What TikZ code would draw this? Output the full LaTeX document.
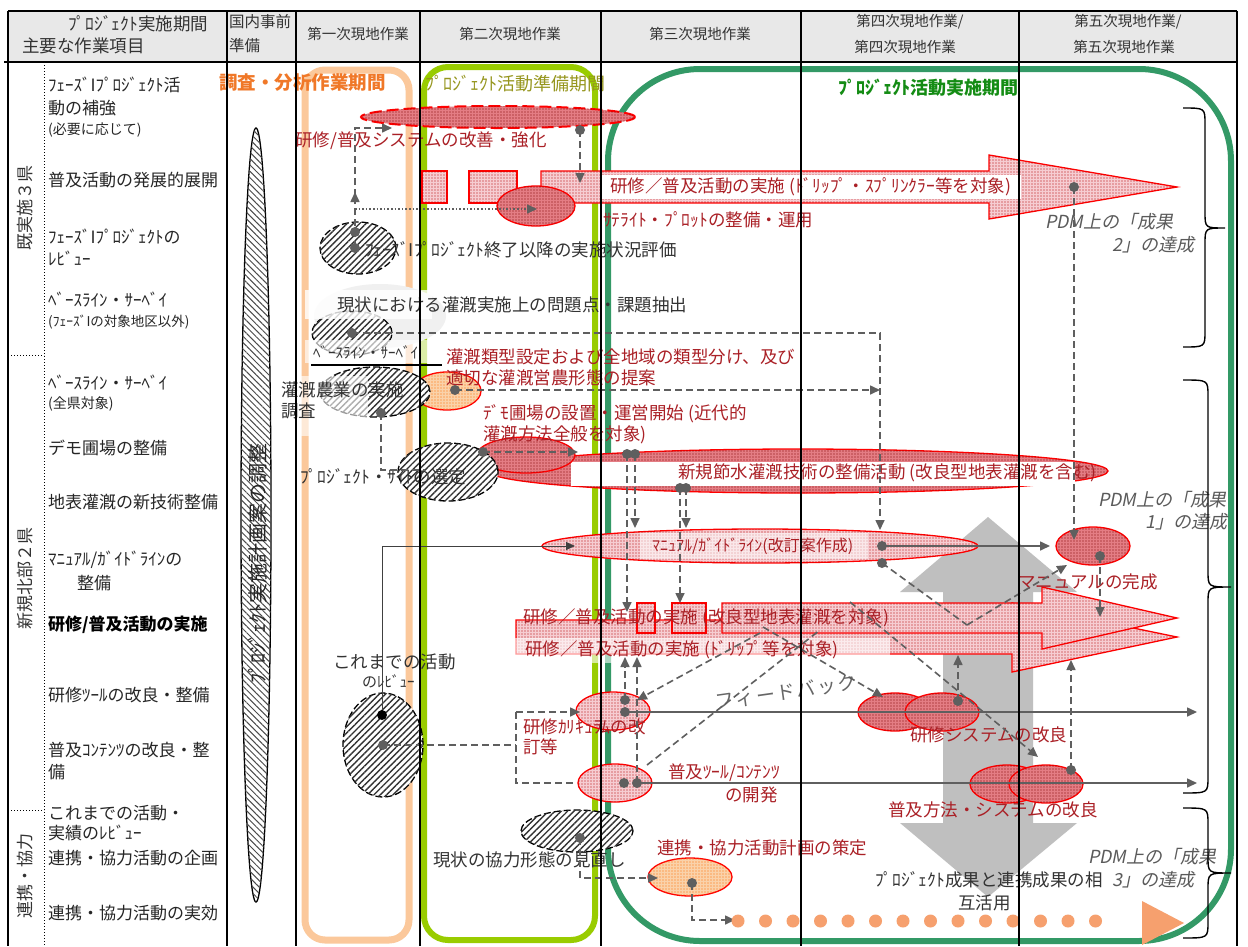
\documentclass[tikz,border=0pt]{standalone}
\usepackage{fontspec}
\setmainfont{Noto Sans CJK JP}[AutoFakeSlant=0.2]
\usetikzlibrary{shapes.geometric,arrows.meta,patterns.meta}

\definecolor{hdr}{RGB}{232,232,232}
\definecolor{txr}{RGB}{170,32,38}
\definecolor{lnk}{RGB}{95,95,95}
\definecolor{orgreg}{RGB}{251,200,155}
\definecolor{olvreg}{RGB}{153,204,0}
\definecolor{grnreg}{RGB}{51,153,102}
\definecolor{orgtxt}{RGB}{240,120,40}
\definecolor{olvtxt}{RGB}{150,150,30}
\definecolor{grntxt}{RGB}{20,140,20}
\definecolor{redfill}{RGB}{228,125,132}
\definecolor{pinkfill}{RGB}{246,205,210}
\definecolor{orgfill}{RGB}{250,210,170}
\definecolor{orgdot}{RGB}{246,160,110}
\definecolor{graybig}{RGB}{191,191,191}
\definecolor{pdm}{RGB}{90,90,90}

\tikzset{
  txt/.style={inner sep=0pt, font=\fontsize{17}{20}\selectfont},
  itm/.style={txt, anchor=west, text=black!85},
  rtx/.style={inner sep=0pt, font=\fontsize{17.5}{20}\selectfont, anchor=west, text=txr},
  btx/.style={inner sep=0pt, font=\fontsize{17.5}{20}\selectfont, anchor=west, text=black!80},
  hdrt/.style={inner sep=0pt, font=\fontsize{14.5}{17}\selectfont, text=black!80},
  pdmt/.style={inner sep=0pt, font=\fontsize{18}{21}\selectfont\itshape, text=pdm},
  ell/.style={ellipse, inner sep=0pt},
  hatchell/.style={ell, draw=black, line width=1.3pt, dash pattern=on 7pt off 3pt, fill=white,
    postaction={pattern={Lines[angle=45,distance=4.5pt,line width=1.4pt]}, pattern color=black!80}},
  redell/.style={ell, draw=red, line width=1.3pt, fill=redfill,
    postaction={pattern={Dots[distance=3pt,radius=0.6pt]}, pattern color=red!50!black}},
  pinkell/.style={ell, draw=red, line width=1.3pt, fill=pinkfill,
    postaction={pattern={Dots[distance=3pt,radius=0.6pt]}, pattern color=red!70!black}},
  orgell/.style={ell, draw=red, line width=1.3pt, fill=orgfill,
    postaction={pattern={Dots[distance=3pt,radius=0.6pt]}, pattern color=orange!85!red}},
  bigarr/.style={draw=red, line width=1.3pt, fill=pinkfill,
    postaction={pattern={Dots[distance=3pt,radius=0.55pt]}, pattern color=red!70!black}},
  cn/.style={draw=lnk, line width=1.6pt},
  dcn/.style={cn, dash pattern=on 7pt off 4pt},
  tip/.style={-{Triangle[length=10pt,width=9pt]}},
  gridln/.style={draw=black, line width=1.3pt},
  brc/.style={draw=black, line width=1.4pt},
}

\begin{document}
\begin{tikzpicture}[x=1pt,y=-1pt]
\useasboundingbox (0,0) rectangle (1248,946);
\fill[white] (0,0) rectangle (1248,946);

% header band
\fill[hdr] (8,11) rectangle (1237,62);

% large two-headed grey arrow
\fill[graybig] (988,517) -- (1077,592) -- (1033,592) -- (1033,823) -- (1077,823) -- (988,897)
  -- (900,823) -- (943,823) -- (943,592) -- (900,592) -- cycle;

% period frames
\draw[orgreg, line width=7pt, rounded corners=20pt] (305,70) rectangle (409,940);
\draw[olvreg, line width=6pt, rounded corners=24pt] (424,67) rectangle (595,940);
\draw[grnreg, line width=6pt, rounded corners=92pt] (608,69) rectangle (1231,941);
\node[inner sep=0pt, anchor=west, font=\fontsize{18.5}{21}\selectfont\bfseries, text=orgtxt] (lbor) at (219,83) {調査・分析作業期間};
\node[inner sep=0pt, anchor=west, font=\fontsize{18}{21}\selectfont, text=olvtxt] (lbol) at (425,84) {ﾌﾟﾛｼﾞｪｸﾄ活動準備期間};
\node[inner sep=0pt, anchor=west, font=\fontsize{18}{21}\selectfont\bfseries, text=grntxt] (lbgr) at (838,88) {ﾌﾟﾛｼﾞｪｸﾄ活動実施期間};

% domestic preparation spindle
\node[ell, draw=black, line width=1.3pt, fill=white, minimum width=30pt, minimum height=774pt,
  postaction={pattern={Lines[angle=-45,distance=4.5pt,line width=1pt]}, pattern color=black!70}] (prep) at (256,515) {};
\node[inner sep=0pt, rotate=90, font=\fontsize{20}{23}\selectfont, text=black!85] (tprep) at (258,563) {ﾌﾟﾛｼﾞｪｸﾄ実施計画案の調整};

% wide arrow: drip / sprinkler extension
\path[bigarr] (422,171) rectangle (447,203);
\path[bigarr] (469,171) rectangle (517,203);
\path[bigarr] (541,171) -- (989,171) -- (989,155) -- (1177,187) -- (989,219) -- (989,203) -- (541,203) -- cycle;
\node[rtx, fill=white, inner xsep=10pt, inner ysep=3pt] (tdrip) at (600,187) {研修／普及活動の実施\ (ﾄﾞﾘｯﾌﾟ・ｽﾌﾟﾘﾝｸﾗｰ等を対象)};

% wide arrows: improved surface irrigation / drip
\path[bigarr] (516,620) -- (1012,620) -- (1012,603) -- (1177,637) -- (1012,672) -- (1012,654) -- (516,654) -- cycle;
\path[bigarr] (637,603) rectangle (655,633);
\path[bigarr] (672,603) rectangle (706,633);
\path[bigarr] (722,603) -- (1042,603) -- (1042,587) -- (1177,618) -- (1042,649) -- (1042,633) -- (722,633) -- cycle;
\fill[white, opacity=0.6] (490,638) rectangle (890,663);
\node[rtx] (tsurf) at (523,618) {研修／普及活動の実施\ (改良型地表灌漑を対象)};
\node[rtx] (tdrip2) at (525,650) {研修／普及活動の実施\ (ﾄﾞﾘｯﾌﾟ等を対象)};

% activity ellipses
\node[ell, draw=red, line width=2pt, dash pattern=on 12pt off 5pt, fill=redfill, minimum width=274pt, minimum height=22pt,
  postaction={pattern={Dots[distance=3pt,radius=0.6pt]}, pattern color=red!50!black}] (esys) at (498,117) {};
\node[redell, minimum width=78pt, minimum height=40pt] (esat) at (536,206) {};
\node[redell, minimum width=620pt, minimum height=44pt] (enew) at (798,471) {};
\fill[white] (571,462) rectangle (1075,486);
\node[rtx] (tnew) at (678,473) {新規節水灌漑技術の整備活動\ (改良型地表灌漑を含む)};
\node[pinkell, minimum width=436pt, minimum height=34pt] (eman) at (760,546) {};
\fill[white, opacity=0.55] (640,533) rectangle (868,559);
\node[rtx, font=\fontsize{16}{19}\selectfont] (tman) at (652,546) {ﾏﾆｭｱﾙ/ｶﾞｲﾄﾞﾗｲﾝ(改訂案作成)};
\node[redell, minimum width=98pt, minimum height=36pt] (edemo) at (526,455) {};
\node[orgell, minimum width=68pt, minimum height=38pt] (etype) at (447,391) {};
\node[redell, minimum width=74pt, minimum height=38pt] (edone) at (1093,546) {};
\node[pinkell, minimum width=74pt, minimum height=38pt] (ecur) at (613,711) {};
\node[pinkell, minimum width=74pt, minimum height=38pt] (etool) at (615,783) {};
\node[redell, minimum width=74pt, minimum height=38pt] (ets1) at (895,712) {};
\node[redell, minimum width=74pt, minimum height=38pt] (ets2) at (942,712) {};
\node[redell, minimum width=74pt, minimum height=38pt] (edm1) at (1007,784) {};
\node[redell, minimum width=74pt, minimum height=38pt] (edm2) at (1046,784) {};
\node[orgell, minimum width=84pt, minimum height=38pt] (ecoop) at (690,877) {};

% survey / review ellipses
\fill[gray!12] (380,316) ellipse (66pt and 32pt);
\node[hatchell, minimum width=76pt, minimum height=52pt] (erev) at (358,248) {};
\node[hatchell, minimum width=80pt, minimum height=44pt] (ebase) at (352,333) {};
\node[hatchell, minimum width=110pt, minimum height=50pt] (esurv) at (375,392) {};
\node[hatchell, minimum width=100pt, minimum height=58pt] (esite) at (448,472) {};
\node[hatchell, minimum width=80pt, minimum height=104pt] (epast) at (383,745) {};
\node[hatchell, minimum width=112pt, minimum height=42pt] (ecoform) at (577,831) {};

% soft label backgrounds
\fill[white, opacity=0.8] (305,290) rectangle (432,319);
\fill[white, opacity=0.65] (305,340) rectangle (442,363);
\fill[white, opacity=0.6] (272,376) rectangle (368,436);

% red labels
\node[rtx] (tsys) at (295,141) {研修/普及システムの改善・強化};
\node[rtx] (tsat) at (603,220) {ｻﾃﾗｲﾄ・ﾌﾟﾛｯﾄの整備・運用};
\node[rtx] (ttype1) at (446,357) {灌漑類型設定および全地域の類型分け、及び};
\node[rtx] (ttype2) at (446,378) {適切な灌漑営農形態の提案};
\node[rtx] (tdemo1) at (483,414) {ﾃﾞﾓ圃場の設置・運営開始\ (近代的};
\node[rtx] (tdemo2) at (483,435) {灌漑方法全般を対象)};
\node[rtx] (tdone) at (1018,582) {マニュアルの完成};
\node[rtx] (tcur1) at (523,727) {研修ｶﾘｷｭﾗﾑの改};
\node[rtx] (tcur2) at (523,747) {訂等};
\node[rtx] (ttool1) at (668,773) {普及ﾂｰﾙ/ｺﾝﾃﾝﾂ};
\node[rtx] (ttool2) at (725,795) {の開発};
\node[rtx] (tts) at (910,735) {研修システムの改良};
\node[rtx] (tdm) at (888,810) {普及方法・システムの改良};
\node[rtx] (tcoop) at (657,848) {連携・協力活動計画の策定};

% black labels
\node[btx] (trev) at (365,250) {ﾌｪｰｽﾞIﾌﾟﾛｼﾞｪｸﾄ終了以降の実施状況評価};
\node[btx] (tprob) at (337,305) {現状における灌漑実施上の問題点・課題抽出};
\node[btx, font=\fontsize{15}{18}\selectfont] (tbase) at (313,352) {ﾍﾞｰｽﾗｲﾝ・ｻｰﾍﾞｲ};
\draw[black, line width=1.3pt] (311,365) -- (442,365);
\node[btx] (tsurv1) at (281,390) {灌漑農業の実施};
\node[btx] (tsurv2) at (281,411) {調査};
\node[btx] (tsite) at (300,477) {ﾌﾟﾛｼﾞｪｸﾄ・ｻｲﾄの選定};
\node[btx] (tpast1) at (333,662) {これまでの活動};
\node[btx, font=\fontsize{15}{18}\selectfont] (tpast2) at (362,681) {のﾚﾋﾞｭｰ};
\node[btx] (tcoform) at (433,860) {現状の協力形態の見直し};
\node[btx] (tmut1) at (875,880) {ﾌﾟﾛｼﾞｪｸﾄ成果と連携成果の相};
\node[btx] (tmut2) at (958,903) {互活用};
\node[inner sep=0pt, rotate=8, font=\fontsize{19}{23}\selectfont\addfontfeature{LetterSpace=8}, text=black!60] (tfb) at (786,692) {フィードバック};

% outcome notes
\node[pdmt, anchor=west] (pdm2a) at (1045,222) {PDM上の「成果};
\node[pdmt, anchor=east] (pdm2b) at (1195,245) {2」の達成};
\node[pdmt, anchor=west] (pdm1a) at (1098,500) {PDM上の「成果};
\node[pdmt, anchor=east] (pdm1b) at (1228,522) {1」の達成};
\node[pdmt, anchor=west] (pdm3a) at (1088,857) {PDM上の「成果};
\node[pdmt, anchor=east] (pdm3b) at (1195,880) {3」の達成};

% connector end points
\coordinate (rv1) at (355,232);
\coordinate (rv2) at (355,248);
\coordinate (bs) at (352,333);
\coordinate (sv) at (381,413);
\coordinate (sy) at (580,130);
\coordinate (ty) at (455,390);
\coordinate (dm) at (483,452);
\coordinate (nw1) at (627,454);
\coordinate (nw2) at (635,454);
\coordinate (nw3) at (680,488);
\coordinate (nw4) at (686,488);
\coordinate (ps1) at (382,715);
\coordinate (ps2) at (383,745);
\coordinate (mn1) at (882,546);
\coordinate (mn2) at (882,563);
\coordinate (dn) at (1100,556);
\coordinate (dr) at (1074,187);
\coordinate (cu1) at (625,700);
\coordinate (cu2) at (625,712);
\coordinate (to1) at (624,783);
\coordinate (to2) at (637,783);
\coordinate (ts) at (958,701);
\coordinate (dmt) at (1071,770);
\coordinate (cf) at (580,838);
\coordinate (cp) at (692,883);

% connectors
\draw[dcn, tip] (rv2) -- (355,192);
\draw[dcn, tip] (355,196) -- (355,128) -- (392,128);
\draw[lnk, line width=1.6pt, dotted, tip] (rv1) ++(0,-23) -- (537,209);
\draw[dcn, tip] (sy) -- (580,183);
\draw[dcn, tip] (bs) -- (880,333) -- (880,530);
\draw[dcn, tip] (ty) -- (880,390);
\draw[dcn] (sv) -- (381,470) -- (425,470);
\draw[dcn, tip] (dm) -- (578,452);
\draw[dcn, tip] (nw1) -- (627,612);
\draw[dcn, tip] (nw2) -- (635,528);
\draw[dcn, tip] (nw3) -- (680,603);
\draw[dcn, tip] (nw4) -- (686,528);
\draw[black!75, line width=0.8pt, -{Triangle[length=9pt,width=8pt]}] (ps1) -- (382,546) -- (575,546);
\draw[dcn] (ps2) -- (516,745);
\draw[dcn] (516,712) -- (516,783) -- (576,783);
\draw[dcn, tip] (516,712) -- (580,712);
\draw[cn, tip] (mn1) -- (1050,546);
\draw[dcn] (mn2) -- (967,625);
\draw[dcn, tip] (967,625) -- (1067,565);
\draw[dcn, tip] (dr) -- (1074,540);
\draw[dcn, tip] (dn) -- (1100,617);
\draw[dcn, tip] (cu1) -- (625,657);
\draw[dcn, tip] (to2) -- (637,657);
\draw[cn, tip] (cu2) -- (1197,712);
\draw[cn, tip] (to2) -- (1197,783);
\draw[dcn, tip] (760,633) -- (637,700);
\draw[dcn] (to2) ++(10,-18) -- (820,630);
\draw[dcn, tip] (763,627) -- (883,697);
\draw[dcn, tip] (850,602) -- (1038,757);
\draw[dcn, tip] (ts) -- (958,655);
\draw[dcn, tip] (dmt) -- (1071,660);
\draw[dcn, tip] (cf) -- (580,878) -- (658,878);
\draw[dcn, tip] (cp) -- (692,920) -- (735,920);

% dots on connectors
\foreach \c in {rv1,rv2,bs,sv,sy,ty,dm,nw1,nw2,nw3,nw4,ps2,mn1,mn2,dn,dr,cu1,cu2,to1,to2,ts,dmt,cf,cp}
  \fill[lnk] (\c) circle (5pt);
\fill[black] (ps1) circle (5pt);

% cooperation outcome arrow
\foreach \k in {0,...,13}
  \fill[orgdot] (738+\k*27.5,921) circle (6.5pt);
\fill[orgdot] (1142,901) -- (1184,923) -- (1142,945) -- cycle;

% table grid
\draw[gridln, line width=1.8pt] (8,11) -- (1237,11);
\draw[gridln, line width=2pt] (4,62) -- (1237,62);
\foreach \xx in {8,227,296,420,601,801,1019,1237}
  \draw[gridln] (\xx,11) -- (\xx,946);
\draw[black, line width=1pt, dotted] (44,62) -- (44,946);
\draw[black, line width=1pt, dotted] (8,355) -- (44,355);
\draw[black, line width=1pt, dotted] (8,810) -- (44,810);

% header texts
\node[hdrt, anchor=west, font=\fontsize{17.5}{20}\selectfont] (h1) at (68,24) {ﾌﾟﾛｼﾞｪｸﾄ実施期間};
\node[hdrt, anchor=west, font=\fontsize{17.5}{20}\selectfont] (h2) at (22,46) {主要な作業項目};
\node[hdrt, anchor=west, font=\fontsize{15.5}{18}\selectfont] (h3) at (229,22) {国内事前};
\node[hdrt, anchor=west, font=\fontsize{15.5}{18}\selectfont] (h4) at (229,46) {準備};
\node[hdrt] (h5) at (358,34) {第一次現地作業};
\node[hdrt] (h6) at (510,34) {第二次現地作業};
\node[hdrt] (h7) at (700,34) {第三次現地作業};
\node[hdrt] (h8) at (910,22) {第四次現地作業/};
\node[hdrt] (h9) at (905,47) {第四次現地作業};
\node[hdrt] (h10) at (1128,22) {第五次現地作業/};
\node[hdrt] (h11) at (1124,47) {第五次現地作業};

% group labels
\node[txt, rotate=90, text=black!80] (g1) at (25,208) {既実施３県};
\node[txt, rotate=90, text=black!80] (g2) at (25,578) {新規北部２県};
\node[txt, rotate=90, text=black!80] (g3) at (25,876) {連携・協力};

% work items
\node[itm] (i1) at (48,85) {ﾌｪｰｽﾞIﾌﾟﾛｼﾞｪｸﾄ活};
\node[itm] (i1b) at (48,108) {動の補強};
\node[itm, font=\fontsize{14}{16}\selectfont] (i1c) at (48,130) {(必要に応じて)};
\node[itm] (i2) at (48,180) {普及活動の発展的展開};
\node[itm] (i3) at (48,237) {ﾌｪｰｽﾞIﾌﾟﾛｼﾞｪｸﾄの};
\node[itm] (i3b) at (48,258) {ﾚﾋﾞｭｰ};
\node[itm] (i4) at (48,300) {ﾍﾞｰｽﾗｲﾝ・ｻｰﾍﾞｲ};
\node[itm, font=\fontsize{13.5}{16}\selectfont] (i4b) at (48,322) {(ﾌｪｰｽﾞIの対象地区以外)};
\node[itm] (i5) at (48,383) {ﾍﾞｰｽﾗｲﾝ・ｻｰﾍﾞｲ};
\node[itm, font=\fontsize{14}{16}\selectfont] (i5b) at (48,404) {(全県対象)};
\node[itm] (i6) at (48,448) {デモ圃場の整備};
\node[itm] (i7) at (48,502) {地表灌漑の新技術整備};
\node[itm] (i8) at (48,560) {ﾏﾆｭｱﾙ/ｶﾞｲﾄﾞﾗｲﾝの};
\node[itm] (i8b) at (77,583) {整備};
\node[itm, font=\fontsize{17}{20}\selectfont\bfseries, text=black] (i9) at (48,625) {研修/普及活動の実施};
\node[itm] (i10) at (48,695) {研修ﾂｰﾙの改良・整備};
\node[itm] (i11) at (48,750) {普及ｺﾝﾃﾝﾂの改良・整};
\node[itm] (i11b) at (48,772) {備};
\node[itm] (i12) at (48,813) {これまでの活動・};
\node[itm] (i12b) at (48,833) {実績のﾚﾋﾞｭｰ};
\node[itm] (i13) at (48,858) {連携・協力活動の企画};
\node[itm] (i14) at (48,913) {連携・協力活動の実効};

% outcome braces
\draw[brc] (1183,108) .. controls (1205,108) and (1205,108) .. (1205,124) -- (1205,212)
  .. controls (1205,228) and (1205,228) .. (1225,228) .. controls (1205,228) and (1205,228) .. (1205,244)
  -- (1205,331) .. controls (1205,347) and (1205,347) .. (1183,347);
\draw[brc] (1183,380) .. controls (1208,380) and (1208,380) .. (1208,396) -- (1208,571)
  .. controls (1208,587) and (1208,587) .. (1231,587) .. controls (1208,587) and (1208,587) .. (1208,603)
  -- (1208,777) .. controls (1208,793) and (1208,793) .. (1183,793);
\draw[brc] (1183,808) .. controls (1208,808) and (1208,808) .. (1208,824) -- (1208,857)
  .. controls (1208,873) and (1208,873) .. (1231,873) .. controls (1208,873) and (1208,873) .. (1208,889)
  -- (1208,922) .. controls (1208,938) and (1208,938) .. (1183,938);
\end{tikzpicture}
\end{document}
